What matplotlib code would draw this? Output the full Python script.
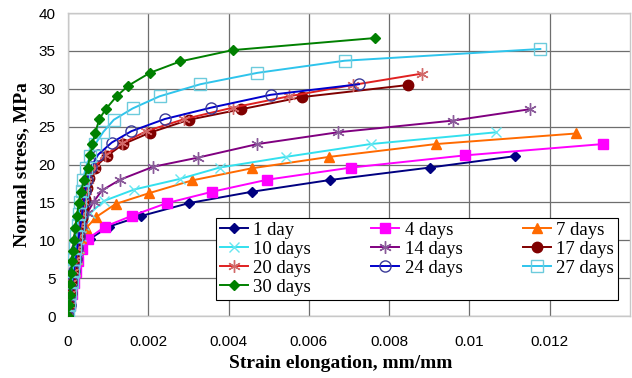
import matplotlib
matplotlib.use("Agg")
import matplotlib.pyplot as plt

# Strain (mm/mm) and stress (MPa), one pair of lists per age
x_1d = [0, 0.00005, 0.0001, 0.00015, 0.0002, 0.00026, 0.00034, 0.00055, 0.00102, 0.00182,
        0.00301, 0.00458, 0.00652, 0.00902, 0.01114]
y_1d = [0, 1.4, 2.9, 4.3, 5.8, 7.2, 8.7, 10.2, 11.8, 13.2, 14.9, 16.4, 17.95, 19.6, 21.1]

x_4d = [0, 0.00005, 0.0001, 0.00015, 0.0002, 0.00026, 0.00035, 0.0005, 0.00092, 0.0016,
        0.00246, 0.00359, 0.00497, 0.00706, 0.00988, 0.01333]
y_4d = [0, 1.4, 2.9, 4.3, 5.8, 7.2, 8.8, 10.2, 11.8, 13.25, 14.9, 16.4, 18.0, 19.6, 21.2, 22.7]

x_7d = [0, 0.00004, 0.00008, 0.00013, 0.00017, 0.00022, 0.00027, 0.00033, 0.00045, 0.00071,
        0.00119, 0.00201, 0.00309, 0.00458, 0.0065, 0.00917, 0.01267]
y_7d = [0, 1.5, 3.0, 4.5, 6.0, 7.5, 9.0, 10.3, 11.6, 13.1, 14.8, 16.2, 17.9, 19.5, 21.0, 22.7, 24.1]

x_10d = [0, 0.00004, 0.00008, 0.00013, 0.00017, 0.00022, 0.00027, 0.00032, 0.0004, 0.00055,
         0.0009, 0.00165, 0.00279, 0.00378, 0.00542, 0.00754, 0.01066]
y_10d = [0, 1.5, 3.0, 4.5, 6.0, 7.5, 9.0, 10.5, 12.0, 13.6, 15.2, 16.7, 18.1, 19.6, 21.0, 22.7, 24.25]

x_14d = [0, 0.00004, 0.00008, 0.00012, 0.00016, 0.0002, 0.00024, 0.00029, 0.00036, 0.00048,
         0.00064, 0.00085, 0.0013, 0.00212, 0.00323, 0.00472, 0.00672, 0.0096, 0.01151]
y_14d = [0, 1.5, 3.0, 4.5, 6.0, 7.5, 9.0, 10.5, 12.0, 13.6, 15.1, 16.6, 18.0, 19.7, 20.9, 22.7,
         24.25, 25.8, 27.3]

x_17d = [0, 0.00004, 0.00008, 0.00011, 0.00015, 0.00019, 0.00023, 0.00027, 0.0003, 0.00034,
         0.00038, 0.00042, 0.00047, 0.00053, 0.00067, 0.00096, 0.00138, 0.00204, 0.00301,
         0.00432, 0.00583, 0.00848]
y_17d = [0, 1.5, 3.0, 4.5, 6.0, 7.5, 9.0, 10.5, 11.8, 12.9, 14.2, 15.5, 16.9, 18.2, 19.6, 21.1,
         22.7, 24.2, 25.9, 27.3, 28.9, 30.5]

x_20d = [0, 0.00004, 0.00008, 0.00011, 0.00015, 0.00019, 0.00023, 0.00027, 0.00031, 0.00035,
         0.00039, 0.00044, 0.0005, 0.00065, 0.00092, 0.00135, 0.00195, 0.0029, 0.0041, 0.0055,
         0.0071, 0.00882]
y_20d = [0, 1.5, 3.0, 4.5, 6.0, 7.5, 9.0, 10.5, 12.0, 13.5, 15.0, 16.5, 18.0, 19.6, 21.2, 22.8,
         24.4, 26.0, 27.5, 29.0, 30.5, 32.0]

x_24d = [0, 0.00004, 0.00008, 0.00011, 0.00015, 0.00019, 0.00023, 0.00027, 0.00031, 0.00035,
         0.00039, 0.00043, 0.00048, 0.00058, 0.00075, 0.00109, 0.00158, 0.00241, 0.00356,
         0.00505, 0.00725]
y_24d = [0, 1.5, 3.0, 4.5, 6.0, 7.5, 9.0, 10.5, 12.0, 13.5, 15.0, 16.5, 18.0, 19.7, 21.3, 22.9,
         24.4, 26.0, 27.5, 29.2, 30.6]

x_27d = [0, 0.00003, 0.00006, 0.00009, 0.00012, 0.00015, 0.00018, 0.00021, 0.00024, 0.00027,
         0.0003, 0.00034, 0.00038, 0.00044, 0.00055, 0.00068, 0.00088, 0.00114, 0.00161,
         0.00228, 0.0033, 0.00472, 0.00689, 0.01177]
y_27d = [0, 1.5, 3.0, 4.5, 6.0, 7.5, 9.0, 10.5, 12.0, 13.5, 15.0, 16.5, 18.0, 19.6, 21.1, 22.7,
         24.3, 25.9, 27.4, 29.0, 30.6, 32.1, 33.7, 35.25]

x_30d = [0, 0.00002, 0.00004, 0.00006, 0.00008, 0.0001, 0.00012, 0.00015, 0.00018, 0.00022,
         0.00027, 0.00032, 0.0004, 0.00049, 0.000555, 0.00061, 0.00068, 0.00078, 0.00094,
         0.00121, 0.0015, 0.00204, 0.00279, 0.0041, 0.00766]
y_30d = [0, 1.4, 2.8, 4.2, 5.7, 7.2, 8.6, 10.0, 11.6, 13.2, 14.9, 16.4, 18.0, 19.6, 21.3, 22.7,
         24.2, 26.0, 27.3, 29.0, 30.4, 32.1, 33.6, 35.1, 36.7]

x_ticks = [0, 0.002, 0.004, 0.006, 0.008, 0.010, 0.012]
x_tick_labels = ['0', '0.002', '0.004', '0.006', '0.008', '0.01', '0.012']
y_ticks = [0, 5, 10, 15, 20, 25, 30, 35, 40]

asterisk = (6, 2, 0)

# label, x, y, line colour, marker, marker face, marker edge, marker size
series = [
    ('1 day', x_1d, y_1d, '#000080', 'D', '#000080', '#000080', 5.5),
    ('4 days', x_4d, y_4d, '#ff00ff', 's', '#ff00ff', '#ff00ff', 7),
    ('7 days', x_7d, y_7d, '#ff6a00', '^', '#ff6a00', '#ff6a00', 7.5),
    ('10 days', x_10d, y_10d, '#33e0ee', 'x', 'none', '#66e6f0', 7),
    ('14 days', x_14d, y_14d, '#800080', asterisk, 'none', '#8a5a9a', 9),
    ('17 days', x_17d, y_17d, '#800000', 'o', '#800000', '#800000', 7.5),
    ('20 days', x_20d, y_20d, '#e02020', asterisk, 'none', '#d26a6a', 9),
    ('24 days', x_24d, y_24d, '#0000cc', 'o', 'none', '#3a3a99', 8),
    ('27 days', x_27d, y_27d, '#2ec4ec', 's', 'none', '#6ccbdc', 9),
    ('30 days', x_30d, y_30d, '#008000', 'D', '#008000', '#008000', 5.5),
]

fig = plt.figure(figsize=(6.32, 3.78), dpi=100)
ax = fig.add_axes([0.1076, 0.164, 0.889, 0.8016])

handles = {}
for label, xs, ys, col, mk, mfc, mec, ms in series:
    h, = ax.plot(xs, ys, color=col, lw=1.4, marker=mk, markerfacecolor=mfc,
                 markeredgecolor=mec, markersize=ms, markeredgewidth=1.0, label=label,
                 zorder=3)
    handles[label] = h

ax.set_xlim(0, 0.014)
ax.set_ylim(0, 40)
ax.set_xticks(x_ticks)
ax.set_xticklabels(x_tick_labels)
ax.set_yticks(y_ticks)
ax.tick_params(length=0, labelsize=11)
ax.tick_params(axis='x', pad=14)
ax.tick_params(axis='y', pad=9)
for lbl in ax.get_xticklabels() + ax.get_yticklabels():
    lbl.set_family('Liberation Sans')

ax.grid(True, color='#6e6e6e', lw=0.9, zorder=0)
ax.set_axisbelow(True)
for s in ax.spines.values():
    s.set_color('#c8c8c8')
    s.set_linewidth(1.0)

ax.set_xlabel('Strain elongation, mm/mm', family='Liberation Serif', weight='bold', fontsize=14)
ax.xaxis.set_label_coords((341 - 68) / 562, -(363 - 316) / 303)
ax.xaxis.label.set_va('center')
ax.set_ylabel('Normal stress, MPa', family='Liberation Serif', weight='bold', fontsize=14)
ax.yaxis.set_label_coords(-(68 - 22) / 562, 0.5)
ax.yaxis.label.set_va('center')

# Excel fills the legend row by row; matplotlib fills columns, so reorder
order = ['1 day', '10 days', '20 days', '30 days', '4 days', '14 days', '24 days',
         '7 days', '17 days', '27 days']
leg = ax.legend([handles[k] for k in order], order, ncol=3, loc='upper left',
                bbox_to_anchor=((216 - 68) / 562, (316 - 218) / 303),
                prop={'family': 'Liberation Serif', 'size': 13.5},
                frameon=True, fancybox=False, framealpha=1, edgecolor='black',
                handlelength=1.5, handletextpad=0.3, columnspacing=3.2,
                labelspacing=0.1, borderpad=0.2, borderaxespad=0)
leg.get_frame().set_linewidth(0.8)
leg.set_zorder(5)

fig.savefig('out.png', dpi=100, facecolor='white')
